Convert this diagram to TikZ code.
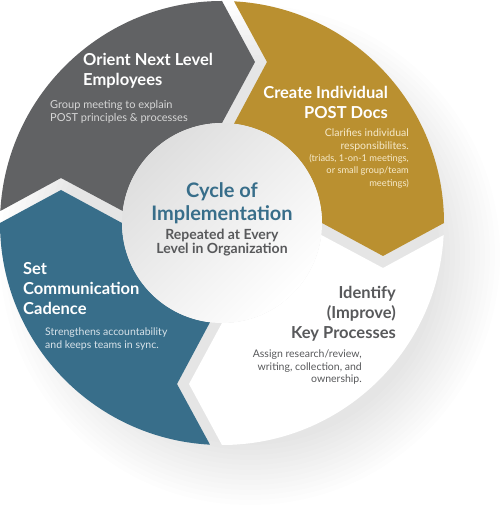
\documentclass[tikz,border=0pt]{standalone}
\usepackage{fontspec}
\setmainfont{Lato}
\definecolor{cgray}{HTML}{616264}
\definecolor{cgold}{HTML}{BA9030}
\definecolor{cblue}{HTML}{386E8A}
\definecolor{ctext}{HTML}{58595B}
\definecolor{subgray}{HTML}{D6D6D6}
\definecolor{subgold}{HTML}{F6EACB}
\definecolor{subblue}{HTML}{D8E3EA}
% one ring segment, tip at 90 deg, notch at 180 deg
\newcommand\cycseg{(90:222) arc[start angle=90,end angle=176.9,radius=222]
  -- (-161,45) -- (173.1:100) arc[start angle=173.1,end angle=90,radius=100]
  -- (33,161) -- cycle}

\begin{document}
\begin{tikzpicture}[x=1bp,y=1bp,
  ttl/.style={font=\fontsize{16.5bp}{20bp}\selectfont\bfseries,inner sep=0},
  sub/.style={font=\fontsize{10.5bp}{12.5bp}\selectfont,inner sep=0}]
\path[use as bounding box,fill=white] (-222,-286) rectangle (278,223);
% soft shadow
\foreach \k in {0,...,12}
  \fill[black,opacity=0.009] (28,-32) circle[radius=250-5*\k];
% segments
\foreach \rot/\col in {0/cgray,-90/cgold,-180/white,-270/cblue}
  \fill[\col,rotate=\rot] \cycseg;
\shade[top color=black!13,bottom color=white,shading angle=45] (0,0) circle[radius=100];

\node[ttl,white,anchor=north west,align=left] (orient) at (-139,170) {Orient Next Level\\Employees};
\node[sub,font=\fontsize{11bp}{13bp}\selectfont,subgray,anchor=north west,align=left] (orientsub) at (-172,123) {Group meeting to explain\\POST principles \& processes};
\node[ttl,white,anchor=north east,align=right] (create) at (166,137) {Create Individual\\POST Docs};
\node[sub,subgold,anchor=north east,align=right] (createsub) at (187,94) {Clarifies individual\\responsibilites.\\[-0.6bp]
  {\fontsize{9.3bp}{12.4bp}\selectfont(triads, 1-on-1 meetings,}\\{\fontsize{9.3bp}{12.4bp}\selectfont or small group/team}\\{\fontsize{9.3bp}{12.4bp}\selectfont meetings)}};
\node[font=\fontsize{20bp}{23bp}\selectfont\bfseries,inner sep=0,cblue,align=center,anchor=north] (cycle) at (0,41) {Cycle of\\Implementation};
\node[font=\fontsize{14bp}{12.5bp}\selectfont\bfseries,inner sep=0,ctext,align=center,anchor=north] (repeat) at (0,-6) {Repeated at Every\\Level in Organization};
\node[ttl,white,anchor=north west,align=left] (cadence) at (-199,-39) {Set\\Communication\\Cadence};
\node[sub,subblue,anchor=north west,align=left] (cadencesub) at (-177,-105) {Strengthens accountability\\and keeps teams in sync.};
\node[ttl,ctext,anchor=north east,align=right] (identify) at (174,-63) {Identify\\(Improve)\\Key Processes};
\node[sub,ctext,anchor=north east,align=right] (identifysub) at (140,-127) {Assign research/review,\\writing, collection, and\\ownership.};
\end{tikzpicture}
\end{document}
